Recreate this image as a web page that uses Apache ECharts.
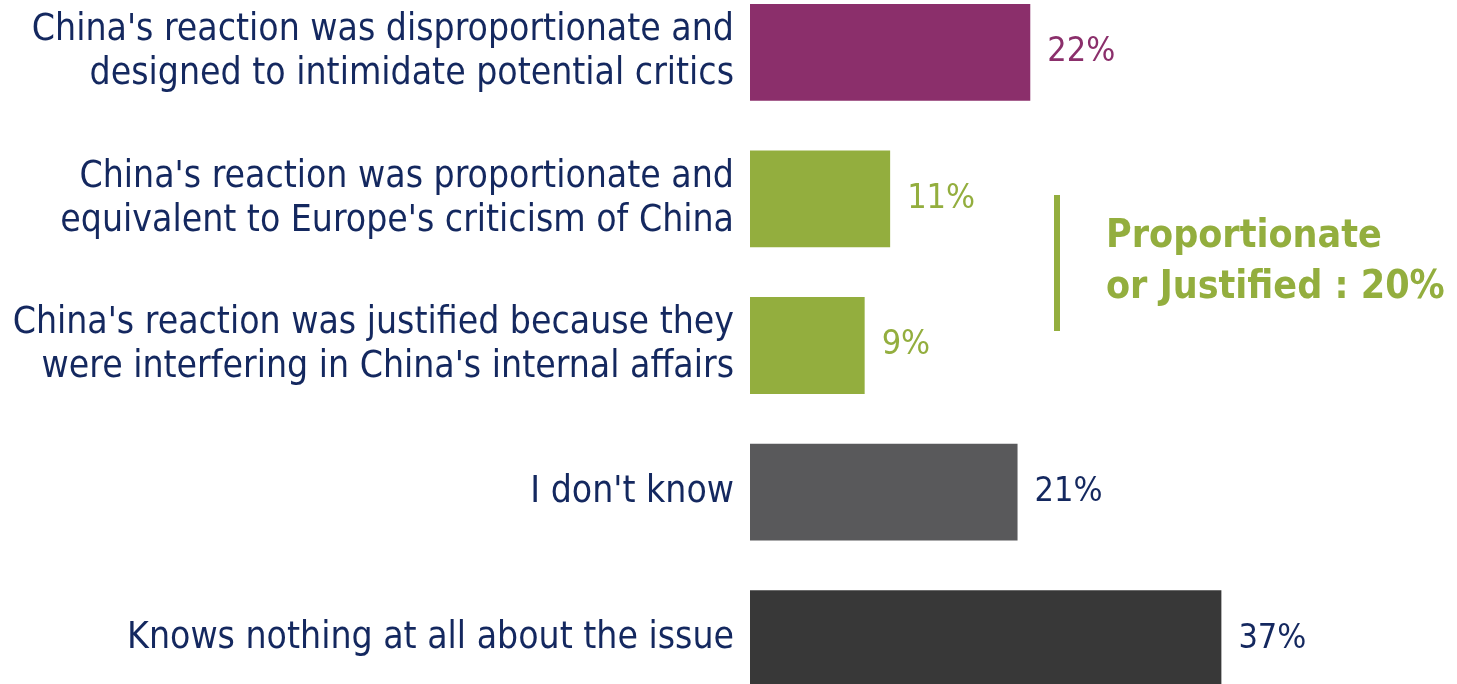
<!DOCTYPE html>
<html><head><meta charset="utf-8">
<script src="https://cdn.jsdelivr.net/npm/echarts@6/dist/echarts.min.js"></script>
<style>html,body{margin:0;padding:0;background:#fff}#c{width:1457px;height:684px}</style>
</head><body><div id="c"></div>
<script>
const categories = [
  "China's reaction was disproportionate and\ndesigned to intimidate potential critics",
  "China's reaction was proportionate and\nequivalent to Europe's criticism of China",
  "China's reaction was justified because they\nwere interfering in China's internal affairs",
  "I don't know",
  "Knows nothing at all about the issue"
];
const values = [22, 11, 9, 21, 37];
const barColors = ['#8B2F6B', '#93AE3E', '#93AE3E', '#59595B', '#383838'];
const labelColors = ['#8B2F6B', '#93AE3E', '#93AE3E', '#14285F', '#14285F'];
const groupTitle = 'Proportionate\nor Justified : ';
const groupIdx = [1, 2];

const navy = '#14285F';
const fontC = '"DejaVu Sans Condensed", "DejaVu Sans", sans-serif';
const groupSum = groupIdx.reduce((s, i) => s + values[i], 0);

const chart = echarts.init(document.getElementById('c'));
chart.setOption({
  animation: false,
  grid: { left: 750, right: 70, top: -21, height: 733, containLabel: false, outerBoundsMode: 'none' },
  xAxis: { type: 'value', min: 0, max: 50, show: false },
  yAxis: {
    type: 'category', data: categories, inverse: true,
    axisLine: { show: false }, axisTick: { show: false },
    axisLabel: { color: navy, fontSize: 37, fontFamily: fontC, lineHeight: 44, align: 'right', margin: 16 }
  },
  series: [{
    type: 'bar', barCategoryGap: '34%',
    data: values.map((v, i) => ({ value: v, itemStyle: { color: barColors[i] },
      label: { color: labelColors[i] } })),
    label: { show: true, position: 'right', distance: 17, formatter: '{c}%', fontSize: 34, fontFamily: fontC }
  }],
  graphic: [
    { type: 'rect', shape: { x: 1054, y: 195, width: 6, height: 136 }, style: { fill: '#93AE3E' } },
    { type: 'text', left: 1106, top: 211, style: { text: groupTitle + groupSum + '%', fill: '#93AE3E',
      font: 'bold 39px ' + fontC, lineHeight: 51 } }
  ]
});
</script></body></html>
